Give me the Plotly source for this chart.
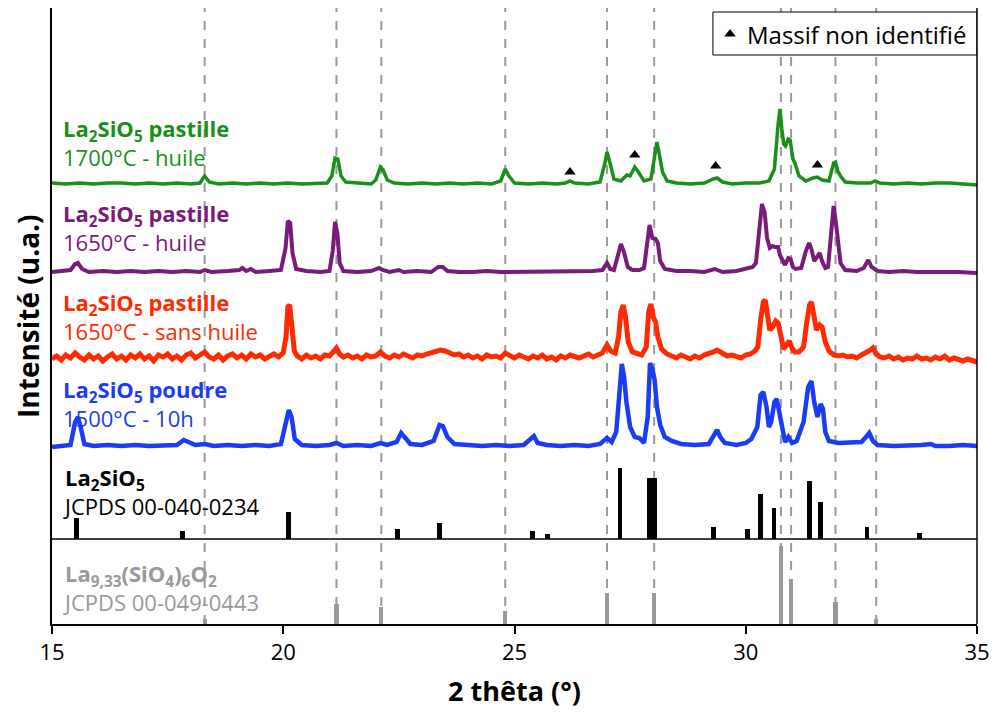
import plotly.graph_objects as go

# ---------------- DATA ----------------
# green: La2SiO5 pastille 1700°C - huile (intensity above its own baseline, u.a.)
green_x = [15.0, 15.3, 15.6, 15.9, 16.2, 16.5, 16.8, 17.1, 17.4, 17.7, 18.0, 18.2, 18.3, 18.4, 18.6, 18.9,
           19.2, 19.5, 19.8, 20.1, 20.4, 20.7, 20.95, 21.05, 21.12, 21.18, 21.25, 21.35, 21.6, 21.9, 22.0,
           22.1, 22.16, 22.25, 22.4, 22.7, 23.0, 23.3, 23.6, 23.9, 24.2, 24.5, 24.7, 24.8, 24.88, 25.0, 25.3,
           25.6, 25.9, 26.1, 26.2, 26.3, 26.6, 26.85, 26.95, 27.0, 27.06, 27.15, 27.3, 27.43, 27.5, 27.6,
           27.68, 27.8, 27.95, 28.02, 28.08, 28.13, 28.2, 28.3, 28.5, 28.8, 29.1, 29.3, 29.38, 29.5, 29.7,
           30.0, 30.3, 30.5, 30.62, 30.7, 30.74, 30.78, 30.82, 30.86, 30.92, 30.96, 31.02, 31.07, 31.15,
           31.3, 31.45, 31.55, 31.65, 31.8, 31.9, 31.94, 31.99, 32.05, 32.15, 32.4, 32.7, 32.8, 32.9, 33.2,
           33.5, 33.8, 34.1, 34.4, 34.7, 35.0]
green_y = [1, 0, 1, 0, 1, 1, 0, 1, 0, 1, 0, 1, 8, 2, 0, 1,
           0, 1, 0, 1, 0, 1, 1, 8, 26, 25, 8, 2, 1, 0, 4,
           17, 14, 4, 1, 0, 1, 0, 1, 0, 1, 0, 3, 15, 8, 1, 0,
           1, 0, 1, 3, 1, 0, 2, 20, 32, 22, 5, 3, 9, 8, 17,
           12, 3, 5, 25, 42, 30, 12, 3, 1, 0, 1, 5, 6, 2, 0,
           1, 1, 3, 15, 60, 75, 55, 40, 38, 45, 44, 25, 20, 8,
           3, 6, 7, 4, 3, 21, 22, 13, 8, 2, 1, 1, 3, 1, 0,
           1, 0, 1, 1, 0, -1]

# purple: La2SiO5 pastille 1650°C - huile
purple_x = [15.0, 15.2, 15.4, 15.5, 15.56, 15.65, 15.8, 16.1, 16.4, 16.7, 17.0, 17.3, 17.6, 17.9, 18.2,
            18.3, 18.45, 18.8, 19.05, 19.12, 19.2, 19.3, 19.4, 19.7, 19.95, 20.05, 20.1, 20.15, 20.2, 20.28,
            20.5, 20.8, 21.0, 21.07, 21.12, 21.17, 21.22, 21.3, 21.6, 21.9, 22.07, 22.15, 22.3, 22.5, 22.6,
            22.9, 23.2, 23.35, 23.45, 23.55, 23.8, 24.1, 24.4, 24.7, 25.0, 25.15, 25.5, 25.8, 26.1, 26.4,
            26.7, 26.9, 27.0, 27.07, 27.15, 27.25, 27.3, 27.36, 27.45, 27.55, 27.7, 27.8, 27.88, 27.92,
            27.98, 28.05, 28.1, 28.15, 28.25, 28.5, 28.8, 29.1, 29.33, 29.5, 29.8, 30.0, 30.15, 30.22, 30.3,
            30.35, 30.41, 30.46, 30.52, 30.58, 30.63, 30.7, 30.74, 30.8, 30.85, 30.92, 30.97, 31.02, 31.08,
            31.2, 31.3, 31.37, 31.42, 31.48, 31.52, 31.6, 31.65, 31.72, 31.78, 31.86, 31.9, 31.95, 32.0,
            32.05, 32.15, 32.4, 32.55, 32.65, 32.72, 32.85, 33.1, 33.4, 33.7, 34.0, 34.3, 34.6, 35.0]
purple_y = [1, 2, 3, 9, 10, 4, 1, 2, 1, 2, 1, 2, 1, 2, 1,
            3, 1, 2, 3, 5, 2, 4, 1, 2, 3, 25, 52, 50, 20, 4,
            2, 1, 2, 22, 51, 40, 10, 2, 1, 2, 5, 3, 1, 3, 1,
            2, 1, 6, 6, 2, 1, 1, 2, 1, 1, 2, 1, 2, 1, 1,
            2, 3, 10, 4, 3, 20, 29, 22, 6, 3, 3, 5, 35, 48,
            35, 34, 30, 12, 4, 2, 2, 1, 4, 1, 2, 4, 6, 10, 50,
            69, 60, 35, 25, 27, 26, 26, 18, 12, 8, 15, 14, 6, 4,
            5, 22, 30, 24, 12, 15, 20, 12, 5, 6, 45, 67, 50, 30,
            10, 3, 2, 5, 13, 6, 2, 1, 2, 1, 1, 2, 1, 0]

# red: La2SiO5 pastille 1650°C - sans huile
red_x = [15.0, 15.1, 15.2, 15.3, 15.4, 15.5, 15.6, 15.7, 15.8, 15.9, 16.0, 16.1, 16.2, 16.3, 16.4, 16.5,
         16.6, 16.7, 16.8, 16.9, 17.0, 17.1, 17.2, 17.3, 17.4, 17.5, 17.6, 17.7, 17.8, 17.9, 18.0, 18.1,
         18.2, 18.3, 18.4, 18.5, 18.6, 18.7, 18.8, 18.9, 19.0, 19.1, 19.2, 19.3, 19.4, 19.5, 19.6, 19.7,
         19.8, 19.9, 20.0, 20.06, 20.1, 20.14, 20.18, 20.24, 20.3, 20.4, 20.5, 20.6, 20.7, 20.8, 20.9,
         21.0, 21.1, 21.15, 21.22, 21.3, 21.4, 21.5, 21.6, 21.7, 21.8, 21.9, 22.0, 22.1, 22.2, 22.3, 22.4,
         22.5, 22.6, 22.7, 22.8, 22.9, 23.0, 23.1, 23.2, 23.3, 23.4, 23.5, 23.6, 23.7, 23.8, 23.9, 24.0,
         24.1, 24.2, 24.3, 24.4, 24.5, 24.6, 24.7, 24.8, 24.9, 25.0, 25.1, 25.2, 25.3, 25.4, 25.5, 25.6,
         25.7, 25.8, 25.9, 26.0, 26.1, 26.2, 26.3, 26.4, 26.5, 26.6, 26.7, 26.8, 26.9, 27.0, 27.08,
         27.18, 27.25, 27.3, 27.35, 27.4, 27.46, 27.55, 27.65, 27.75, 27.85, 27.9, 27.95, 28.0, 28.05,
         28.1, 28.18, 28.3, 28.4, 28.5, 28.6, 28.7, 28.8, 28.9, 29.0, 29.1, 29.2, 29.3, 29.38, 29.5, 29.6,
         29.7, 29.8, 29.9, 30.0, 30.1, 30.2, 30.26, 30.33, 30.38, 30.42, 30.47, 30.52, 30.58, 30.65,
         30.7, 30.76, 30.82, 30.88, 30.94, 31.0, 31.06, 31.15, 31.25, 31.32, 31.38, 31.42, 31.47, 31.53,
         31.6, 31.65, 31.72, 31.8, 31.9, 32.0, 32.1, 32.2, 32.3, 32.4, 32.5, 32.6, 32.7, 32.75, 32.82,
         32.9, 33.0, 33.1, 33.2, 33.3, 33.4, 33.5, 33.6, 33.7, 33.8, 33.9, 34.0, 34.1, 34.2, 34.3, 34.4,
         34.5, 34.6, 34.7, 34.8, 34.9, 35.0]
red_y = [-2, 1, -3, 2, -1, 4, 0, -3, 2, -2, 1, -4, 0, 3, -2, 1,
         -3, 2, -1, 3, -2, 1, -4, 2, 0, 3, -2, 1, -3, 2, 4, -1,
         2, 5, 0, -2, 2, -3, 1, 3, -1, 2, -2, 3, 0, 2, -2, 1,
         3, 0, 4, 20, 50, 52, 30, 6, 1, -2, 2, -1, 1, -2, 2,
         1, 6, 9, 3, 0, 2, -1, 1, -2, 2, 0, 1, 5, 1, -1, 2,
         0, 3, 1, -1, 2, 1, 3, 4, 5, 7, 6, 4, 2, 3, 0, 2,
         -1, 1, -2, 2, 0, 1, -1, 4, 1, -1, 2, 0, -2, 1, -1, 2,
         -2, 0, -3, 1, -1, 2, 0, -1, 1, 3, 0, 2, 4, 12, 6,
         4, 20, 45, 52, 40, 15, 5, 3, 2, 10, 45, 53, 40, 35,
         20, 8, 3, 1, -1, 2, 0, -2, 1, -1, 2, 3, 5, 7, 3, 1,
         2, 0, -1, 2, 3, 6, 10, 40, 55, 57, 40, 27, 30, 36,
         34, 20, 8, 12, 16, 9, 5, 5, 10, 35, 52, 55, 40, 27,
         32, 30, 15, 6, 2, 1, 2, 0, 1, -1, 2, 4, 7, 9, 3,
         0, -1, 1, -2, 0, -3, -1, -2, 1, -2, -1, -3, 0, -2, 1, -3,
         -1, -2, -4, -2, -3, -5]

# blue: La2SiO5 poudre 1500°C - 10h
blue_x = [15.0, 15.2, 15.4, 15.5, 15.56, 15.62, 15.7, 15.9, 16.2, 16.5, 16.8, 17.1, 17.4, 17.7, 17.85,
          17.95, 18.1, 18.3, 18.5, 18.8, 19.1, 19.4, 19.7, 19.95, 20.05, 20.12, 20.18, 20.25, 20.4, 20.7,
          21.0, 21.15, 21.3, 21.6, 21.9, 22.1, 22.25, 22.45, 22.55, 22.62, 22.75, 23.0, 23.25, 23.38,
          23.45, 23.55, 23.7, 24.0, 24.3, 24.6, 24.9, 25.2, 25.35, 25.42, 25.5, 25.7, 26.0, 26.3, 26.6,
          26.85, 27.0, 27.1, 27.2, 27.27, 27.32, 27.37, 27.42, 27.5, 27.6, 27.7, 27.8, 27.88, 27.93,
          27.98, 28.03, 28.08, 28.15, 28.25, 28.4, 28.6, 28.9, 29.2, 29.33, 29.38, 29.45, 29.55, 29.8,
          30.0, 30.12, 30.25, 30.32, 30.38, 30.45, 30.5, 30.55, 30.62, 30.67, 30.72, 30.78, 30.85, 30.92,
          31.0, 31.1, 31.25, 31.35, 31.42, 31.48, 31.55, 31.62, 31.67, 31.72, 31.8, 32.0, 32.3, 32.5,
          32.6, 32.67, 32.75, 32.85, 33.2, 33.5, 33.8, 34.0, 34.1, 34.4, 34.7, 35.0]
blue_y = [0, 1, 2, 25, 30, 20, 3, 1, 2, 1, 2, 1, 2, 2, 7,
          5, 2, 3, 1, 2, 1, 2, 1, 3, 25, 37, 30, 8, 2, 1,
          2, 4, 1, 2, 1, 4, 2, 5, 14, 10, 3, 2, 6, 22,
          21, 10, 3, 2, 1, 2, 1, 2, 8, 11, 4, 2, 1, 2, 1,
          3, 9, 5, 15, 60, 83, 70, 45, 20, 10, 9, 4, 30, 84,
          78, 67, 40, 22, 10, 6, 3, 2, 3, 14, 17, 10, 4, 2,
          4, 8, 20, 52, 55, 40, 20, 25, 45, 48, 35, 20, 5, 10,
          4, 6, 25, 60, 66, 45, 30, 43, 38, 15, 6, 4, 5, 5,
          10, 14, 6, 2, 1, 1, 2, 3, 1, 1, 2, 1]

# JCPDS 00-040-0234 (La2SiO5) reference lines
black_x = [15.53, 17.83, 20.12, 22.47, 23.37, 25.38, 25.72, 27.28, 27.91, 27.97, 28.02, 29.31, 30.03,
           30.31, 30.61, 31.37, 31.61, 32.62, 33.75]
black_y = [21, 8, 27, 10, 16, 8, 5, 71, 61, 61, 61, 12, 10, 45, 31, 58, 37, 12, 6]

# JCPDS 00-049-0443 (La9,33(SiO4)6O2) reference lines
gray_x = [18.3, 21.15, 22.12, 24.8, 27.0, 28.02, 30.76, 30.98, 31.94, 32.82]
gray_y = [5, 20, 17, 13, 31, 31, 78, 45, 22, 5]

# unidentified bulk peaks (triangles): position and height above green baseline
tri_x = [26.2, 27.6, 29.35, 31.55]
tri_y = [12, 29, 18, 19]

x_ticks = [15, 20, 25, 30, 35]

# ---------------- LAYOUT HELPERS ----------------
OFFSETS = {"green": 440, "purple": 351, "red": 267, "blue": 177, "black": 85, "gray": 0}
COL = {"green": "#1b8f1b", "purple": "#7a1a7a", "red": "#ff2a00", "blue": "#1a3cf5",
       "black": "#000000", "gray": "#999999"}
FONT = "Open Sans"

fig = go.Figure()

# dashed reference lines at the apatite positions
for gx in gray_x:
    fig.add_shape(type="line", x0=gx, x1=gx, y0=0, y1=620, xref="x", yref="y",
                  line=dict(color="#9a9a9a", width=2, dash="dash"), layer="below")

# legend box (drawn over the dashed lines, under the traces)
fig.add_shape(type="rect", x0=29.29, x1=35, y0=569, y1=612, xref="x", yref="y",
              line=dict(color="black", width=1), fillcolor="white", layer="below")

# separator line
fig.add_shape(type="line", x0=15, x1=35, y0=OFFSETS["black"], y1=OFFSETS["black"],
              xref="x", yref="y", line=dict(color="black", width=1.5))

series = [("blue", blue_x, blue_y, 4.5), ("red", red_x, red_y, 5),
          ("purple", purple_x, purple_y, 4), ("green", green_x, green_y, 3.5)]
for name, xs, ys, w in series:
    off = OFFSETS[name]
    fig.add_trace(go.Scatter(x=xs, y=[v + off for v in ys], mode="lines",
                             line=dict(color=COL[name], width=w), showlegend=False,
                             hoverinfo="skip"))

fig.add_trace(go.Bar(x=black_x, y=black_y, base=OFFSETS["black"], width=0.105,
                     marker=dict(color="black", line=dict(width=0)), showlegend=False))
fig.add_trace(go.Bar(x=gray_x, y=gray_y, base=OFFSETS["gray"], width=0.09,
                     marker=dict(color="#999999", line=dict(width=0)), showlegend=False))

# triangles above green pattern
fig.add_trace(go.Scatter(x=tri_x, y=[OFFSETS["green"] + t for t in tri_y],
                         mode="markers", marker=dict(symbol="triangle-up", size=10, color="black"),
                         showlegend=False))

# legend content
fig.add_trace(go.Scatter(x=[29.66], y=[590], mode="markers",
                         marker=dict(symbol="triangle-up", size=10, color="black"),
                         showlegend=False))
fig.add_annotation(x=29.98, y=590, xref="x", yref="y", text="Massif non identifié",
                   showarrow=False, xanchor="left", yanchor="middle",
                   font=dict(family=FONT, size=24, color="black"))

def label(y, title, sub, color):
    fig.add_annotation(x=15.2, y=y, xref="x", yref="y", text=f"<b>{title}</b><br>{sub}",
                       showarrow=False, xanchor="left", yanchor="middle", align="left",
                       font=dict(family=FONT, size=22, color=color))

label(482, "La<sub>2</sub>SiO<sub>5</sub> pastille", "1700°C - huile", COL["green"])
label(397, "La<sub>2</sub>SiO<sub>5</sub> pastille", "1650°C - huile", COL["purple"])
label(308, "La<sub>2</sub>SiO<sub>5</sub> pastille", "1650°C - sans huile", COL["red"])
label(221, "La<sub>2</sub>SiO<sub>5</sub> poudre", "1500°C - 10h", COL["blue"])
label(133, "La<sub>2</sub>SiO<sub>5</sub>", "JCPDS 00-040-0234", "black")
label(37, "La<sub>9,33</sub>(SiO<sub>4</sub>)<sub>6</sub>O<sub>2</sub>", "JCPDS 00-049-0443", COL["gray"])

# y title
fig.add_annotation(x=-0.026, y=0.50, xref="paper", yref="paper", text="<b>Intensité (u.a.)</b>",
                   textangle=-90, showarrow=False, xanchor="center", yanchor="middle",
                   font=dict(family=FONT, size=28, color="black"))

# right frame line
fig.add_shape(type="line", x0=1, x1=1, y0=0, y1=1, xref="paper", yref="paper",
              line=dict(color="black", width=1.5))

# page body has an 8px default margin: size the figure so plot area lands at x 52..977, y 8..624
fig.update_layout(
    width=982, height=701,
    margin=dict(l=44, r=13, t=0, b=85),
    paper_bgcolor="white", plot_bgcolor="white",
    barmode="overlay", bargap=0,
    xaxis=dict(range=[15, 35], tickvals=x_ticks, ticktext=[str(v) for v in x_ticks],
               showgrid=False, zeroline=False, showline=True, linecolor="black", linewidth=1.5,
               mirror=False, ticks="outside", ticklen=8, tickcolor="black", tickwidth=1.5,
               tickfont=dict(family=FONT, size=22, color="black"),
               title=dict(text="<b>2 thêta (°)</b>", standoff=22,
                          font=dict(family=FONT, size=27, color="black"))),
    yaxis=dict(range=[0, 616], showgrid=False, zeroline=False, showticklabels=False,
               ticks="", showline=True, linecolor="black", linewidth=1.5, mirror=False),
)

fig.write_html("out.html")
